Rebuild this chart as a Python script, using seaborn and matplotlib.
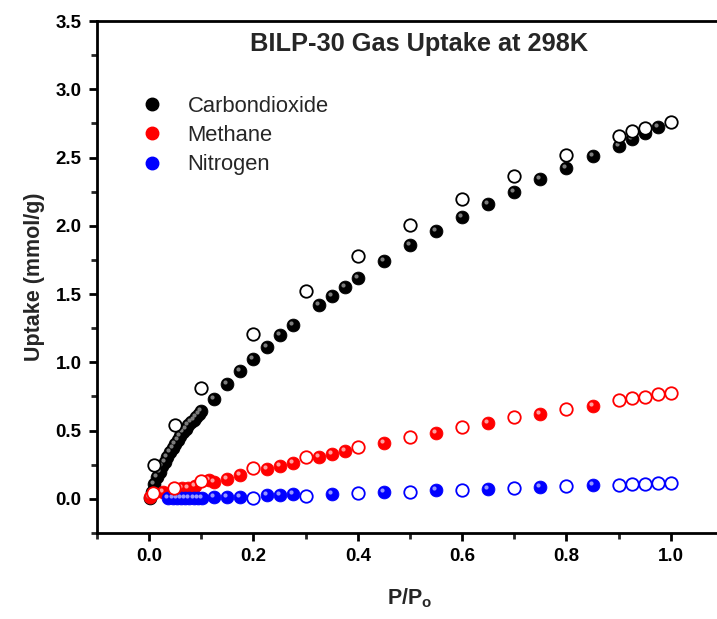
import numpy as np
import pandas as pd
import matplotlib
matplotlib.use("Agg")
import matplotlib.pyplot as plt
import matplotlib.transforms as mtransforms
from matplotlib.lines import Line2D
import seaborn as sns

# ---------------- data ----------------
co2_ads_p = [0.002, 0.005, 0.01, 0.015, 0.02, 0.025, 0.03, 0.035, 0.04, 0.045, 0.05,
             0.055, 0.06, 0.065, 0.07, 0.075, 0.08, 0.085, 0.09, 0.095, 0.1,
             0.125, 0.15, 0.175, 0.2, 0.225, 0.25, 0.275, 0.325, 0.35, 0.375, 0.4,
             0.45, 0.5, 0.55, 0.6, 0.65, 0.7, 0.75, 0.8, 0.85, 0.9, 0.925, 0.95, 0.975]
co2_ads_u = [0.01, 0.05, 0.11, 0.16, 0.20, 0.24, 0.27, 0.31, 0.34, 0.37, 0.40,
             0.43, 0.46, 0.49, 0.51, 0.54, 0.56, 0.58, 0.60, 0.62, 0.64,
             0.735, 0.838, 0.935, 1.028, 1.11, 1.198, 1.276, 1.417, 1.483, 1.553, 1.617,
             1.743, 1.86, 1.962, 2.062, 2.16, 2.25, 2.34, 2.425, 2.508, 2.581, 2.635, 2.683, 2.72]
co2_des_p = [0.01, 0.05, 0.1, 0.2, 0.3, 0.4, 0.5, 0.6, 0.7, 0.8, 0.9, 0.925, 0.95, 1.0]
co2_des_u = [0.248, 0.54, 0.813, 1.21, 1.522, 1.777, 2.004, 2.196, 2.365, 2.52, 2.659, 2.695, 2.715, 2.759]

ch4_ads_p = [0.002, 0.027, 0.063, 0.075, 0.088, 0.115, 0.125, 0.15, 0.175, 0.225, 0.25, 0.275,
             0.325, 0.35, 0.375, 0.45, 0.55, 0.65, 0.75, 0.85]
ch4_ads_u = [0.017, 0.053, 0.078, 0.083, 0.095, 0.139, 0.127, 0.146, 0.175, 0.217, 0.241, 0.265,
             0.309, 0.329, 0.348, 0.411, 0.484, 0.555, 0.621, 0.679]
ch4_des_p = [0.008, 0.048, 0.1, 0.2, 0.3, 0.4, 0.5, 0.6, 0.7, 0.8, 0.9, 0.925, 0.95, 0.975, 1.0]
ch4_des_u = [0.04, 0.083, 0.131, 0.224, 0.305, 0.38, 0.455, 0.528, 0.597, 0.66, 0.721, 0.736, 0.747, 0.765, 0.776]

n2_ads_p = [0.036, 0.045, 0.053, 0.061, 0.069, 0.077, 0.085, 0.093, 0.101,
            0.125, 0.15, 0.175, 0.225, 0.25, 0.275, 0.35, 0.45, 0.55, 0.65, 0.75, 0.85]
n2_ads_u = [0.003, 0.004, 0.005, 0.005, 0.006, 0.006, 0.007, 0.008, 0.009,
            0.012, 0.015, 0.015, 0.029, 0.029, 0.034, 0.037, 0.049, 0.063, 0.075, 0.088, 0.102]
n2_des_p = [0.2, 0.3, 0.4, 0.5, 0.6, 0.7, 0.8, 0.9, 0.925, 0.95, 0.975, 1.0]
n2_des_u = [0.008, 0.024, 0.042, 0.053, 0.063, 0.078, 0.093, 0.105, 0.107, 0.110, 0.114, 0.117]

gases = ["Carbondioxide", "Methane", "Nitrogen"]
colors = {"Carbondioxide": "#000000", "Methane": "#ff0000", "Nitrogen": "#0000ff"}
highlight = {"Carbondioxide": "#8a8a8a", "Methane": "#ffb0b0", "Nitrogen": "#a8a8ff"}

rows = []
for gas, (ap, au, dp, du) in zip(gases, [(co2_ads_p, co2_ads_u, co2_des_p, co2_des_u),
                                          (ch4_ads_p, ch4_ads_u, ch4_des_p, ch4_des_u),
                                          (n2_ads_p, n2_ads_u, n2_des_p, n2_des_u)]):
    for p, u in zip(ap, au):
        rows.append((gas, "ads", p, u))
    for p, u in zip(dp, du):
        rows.append((gas, "des", p, u))
df = pd.DataFrame(rows, columns=["gas", "branch", "P", "U"])

# ---------------- figure ----------------
sns.set_theme(style="ticks")
plt.rcParams["font.family"] = ["Liberation Sans", "DejaVu Sans"]

fig = plt.figure(figsize=(7.17, 6.19), dpi=100)
ax = fig.add_axes([97 / 717, 86 / 619, 626 / 717, 512 / 619])

S = 85
hl_off = mtransforms.ScaledTranslation(-2.0 / 100, 2.0 / 100, fig.dpi_scale_trans)

for gas in gases:
    sub = df[(df.gas == gas) & (df.branch == "ads")]
    sns.scatterplot(data=sub, x="P", y="U", ax=ax, s=S, color=colors[gas],
                    edgecolor=colors[gas], linewidth=0.6, legend=False, zorder=3)
    ax.scatter(sub.P, sub.U, s=9, color=highlight[gas], alpha=0.9, linewidths=0,
               transform=ax.transData + hl_off, zorder=4)

for gas in gases:
    sub = df[(df.gas == gas) & (df.branch == "des")]
    sns.scatterplot(data=sub, x="P", y="U", ax=ax, s=S * 0.95, color="white",
                    edgecolor=colors[gas], linewidth=1.3, legend=False, zorder=5)

ax.set_xlim(-0.1, 1.1)
ax.set_ylim(-0.25, 3.5)
ax.set_xticks([0.0, 0.2, 0.4, 0.6, 0.8, 1.0])
ax.set_xticks(np.arange(-0.1, 1.11, 0.1), minor=True)
ax.set_yticks(np.arange(0.0, 3.51, 0.5))
ax.set_yticks(np.arange(-0.25, 3.51, 0.25), minor=True)
ax.xaxis.set_major_formatter(matplotlib.ticker.FormatStrFormatter("%.1f"))
ax.yaxis.set_major_formatter(matplotlib.ticker.FormatStrFormatter("%.1f"))

for side in ["left", "bottom", "top", "right"]:
    ax.spines[side].set_visible(True)
    ax.spines[side].set_linewidth(2.0)
    ax.spines[side].set_color("black")

ax.tick_params(axis="both", which="major", direction="out", length=6, width=2,
               labelsize=13.5, colors="black", pad=5)
ax.tick_params(axis="both", which="minor", direction="out", length=4, width=2)
ax.tick_params(top=False, right=False, which="both")
for lab in ax.get_xticklabels() + ax.get_yticklabels():
    lab.set_fontweight("bold")

ax.set_xlabel(r"P/P$_\mathregular{o}$", fontsize=15.5, fontweight="bold", labelpad=15)
ax.set_ylabel("Uptake (mmol/g)", fontsize=15.5, fontweight="bold", labelpad=8)

ax.text(0.514, 0.955, "BILP-30 Gas Uptake at 298K", transform=ax.transAxes,
        ha="center", va="center", fontsize=18.3, fontweight="bold")

handles = [Line2D([], [], marker="o", linestyle="none", markersize=9,
                  markerfacecolor=colors[g], markeredgecolor=colors[g]) for g in gases]
ax.legend(handles, gases, loc="upper left", bbox_to_anchor=(0.036, 0.893),
          frameon=False, fontsize=15.8, handletextpad=1.0, labelspacing=0.38,
          handlelength=1.2)

ax.set_facecolor("white")
fig.patch.set_facecolor("white")
fig.savefig("out.png", dpi=100)
